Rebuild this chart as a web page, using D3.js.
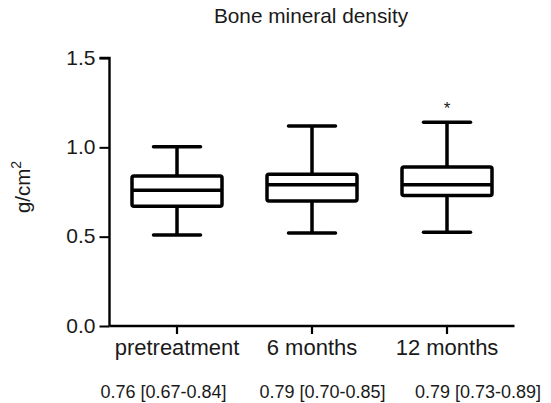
<!DOCTYPE html>
<html><head><meta charset="utf-8">
<script src="https://cdn.jsdelivr.net/npm/d3@7"></script>
<style>body{margin:0;background:#fff}svg{display:block}text{font-family:"Liberation Sans",Arial,sans-serif;fill:#1a1a1a}</style>
</head><body><svg id="c" width="551" height="403"></svg>
<script>
const categories = ["pretreatment", "6 months", "12 months"];
const whiskerLow = [0.51, 0.52, 0.525];
const q1 = [0.67, 0.70, 0.73];
const median = [0.76, 0.79, 0.79];
const q3 = [0.84, 0.85, 0.89];
const whiskerHigh = [1.003, 1.12, 1.14];
const outliers = [null, null, 1.24];
const summaries = ["0.76 [0.67-0.84]", "0.79 [0.70-0.85]", "0.79 [0.73-0.89]"];
const yTicks = [0.0, 0.5, 1.0, 1.5];

const FONT = '"Liberation Sans",Arial,sans-serif';
const svg = d3.select("#c");
const x = d3.scaleBand().domain(categories).range([109.5, 514.5]);
const y = d3.scaleLinear().domain([0, 1.5]).range([326, 58]);

svg.append("text").attr("x", 311).attr("y", 23).attr("text-anchor", "middle")
  .style("font-size", "20.8px").text("Bone mineral density");

// y axis
const ya = svg.append("g").attr("transform", "translate(109.5,0)")
  .call(d3.axisLeft(y).tickValues(yTicks).tickFormat(d3.format(".1f")).tickSize(10).tickPadding(4));
ya.select(".domain").attr("d", `M-10,${y(1.5)}H0V${y(0)}`).attr("stroke-width", 2.4);
ya.selectAll(".tick line").attr("stroke-width", 2);
ya.selectAll(".tick text").style("font-size", "21px").style("font-family", FONT).attr("fill", "#1a1a1a").attr("dy", "0.3em");

// x axis
const xa = svg.append("g").attr("transform", `translate(0,${y(0)})`)
  .call(d3.axisBottom(x).tickSize(8).tickPadding(4).tickSizeOuter(0));
xa.select(".domain").attr("d", `M109.5,0H514.5`).attr("stroke-width", 2.4);
xa.selectAll(".tick line").attr("stroke-width", 2.2);
xa.selectAll(".tick text").style("font-size", "22px").style("font-family", FONT).attr("fill", "#1a1a1a")
  .attr("y", 29).attr("dy", null);

// y label
svg.append("text").attr("transform", "translate(30,187) rotate(-90)").attr("text-anchor", "middle")
  .style("font-size", "20.5px").html('g/cm<tspan dy="-9" style="font-size:14px">2</tspan>');

// boxes
const boxW = 90, capW = 47;
const g = svg.append("g").attr("stroke", "#000").attr("stroke-width", 3.5).attr("fill", "none");
categories.forEach((c, i) => {
  const cx = x(c) + x.bandwidth() / 2;
  g.append("line").attr("x1", cx).attr("x2", cx).attr("y1", y(whiskerHigh[i])).attr("y2", y(q3[i]));
  g.append("line").attr("x1", cx).attr("x2", cx).attr("y1", y(q1[i])).attr("y2", y(whiskerLow[i]));
  g.append("line").attr("x1", cx - capW / 2).attr("x2", cx + capW / 2).attr("y1", y(whiskerHigh[i])).attr("y2", y(whiskerHigh[i])).attr("stroke-linecap", "round");
  g.append("line").attr("x1", cx - capW / 2).attr("x2", cx + capW / 2).attr("y1", y(whiskerLow[i])).attr("y2", y(whiskerLow[i])).attr("stroke-linecap", "round");
  g.append("rect").attr("x", cx - boxW / 2).attr("width", boxW).attr("y", y(q3[i])).attr("height", y(q1[i]) - y(q3[i])).attr("rx", 2);
  g.append("line").attr("x1", cx - boxW / 2).attr("x2", cx + boxW / 2).attr("y1", y(median[i])).attr("y2", y(median[i]));
  if (outliers[i] != null) {
    svg.append("text").attr("x", cx).attr("y", y(outliers[i]) + 10).attr("text-anchor", "middle")
      .style("font-size", "17px").text("*");
  }
});

// summary row
const sumOffsets = [-13.5, 10.5, 31];
categories.forEach((c, i) => {
  svg.append("text").attr("x", x(c) + x.bandwidth() / 2 + sumOffsets[i]).attr("y", 398)
    .attr("text-anchor", "middle").style("font-size", "18px").text(summaries[i]);
});
</script></body></html>
